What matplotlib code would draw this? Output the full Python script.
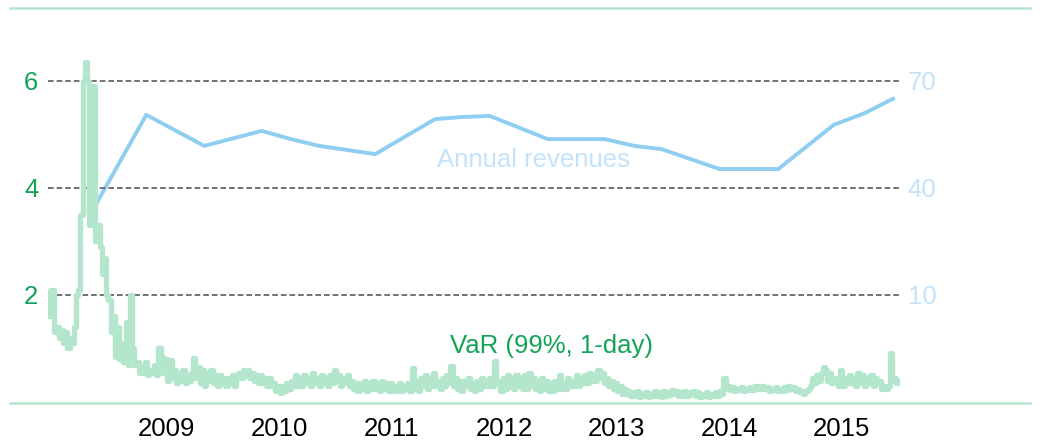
"""
VaR (99%, 1-day) vs annual revenues, 2008-2015.
Left axis: VaR, right axis: annual revenues.
"""

import pandas as pd
import matplotlib.pyplot as plt
from matplotlib.lines import Line2D

plt.rcParams["font.family"] = ["Liberation Sans", "DejaVu Sans"]

# weekly VaR readings, one list per calendar year
var_2008 = [1.6, 2.1, 2.1, 1.3, 1.4, 1.2, 1.35, 1.1, 1.3, 1.0, 1.2, 1.1, 1.4, 2.0,
            2.1, 3.5, 6.0, 6.35, 6.0, 3.3, 4.6, 5.9, 3.0, 3.3, 2.9, 2.4, 2.7, 2.0,
            1.9, 1.3, 1.6, 0.85, 1.4, 0.8, 1.1, 0.75, 1.5, 0.7, 2.0, 1.0, 0.7, 0.75,
            0.55, 0.65, 0.55, 0.75, 0.5, 0.6, 0.55, 0.7, 0.5, 1.0]
var_2009 = [0.85, 0.55, 0.8, 0.4, 0.78, 0.45, 0.6, 0.35, 0.55, 0.4, 0.6, 0.35, 0.5,
            0.4, 0.55, 0.82, 0.45, 0.65, 0.35, 0.6, 0.3, 0.55, 0.4, 0.6, 0.35, 0.5,
            0.3, 0.5, 0.35, 0.45, 0.3, 0.45, 0.35, 0.5, 0.3, 0.45, 0.55, 0.45, 0.6,
            0.5, 0.6, 0.45, 0.55, 0.4, 0.5, 0.35, 0.5, 0.35, 0.45, 0.3, 0.45, 0.3]
var_2010 = [0.35, 0.2, 0.3, 0.17, 0.3, 0.2, 0.35, 0.25, 0.4, 0.3, 0.5, 0.3, 0.45,
            0.3, 0.5, 0.35, 0.45, 0.3, 0.54, 0.35, 0.45, 0.3, 0.5, 0.35, 0.45, 0.3,
            0.5, 0.35, 0.6, 0.4, 0.5, 0.3, 0.45, 0.35, 0.5, 0.3, 0.4, 0.25, 0.35,
            0.2, 0.35, 0.25, 0.4, 0.2, 0.35, 0.25, 0.4, 0.25, 0.35, 0.2, 0.4, 0.25]
var_2011 = [0.35, 0.2, 0.35, 0.2, 0.3, 0.2, 0.35, 0.2, 0.3, 0.25, 0.35, 0.2, 0.64,
            0.25, 0.4, 0.2, 0.45, 0.3, 0.5, 0.25, 0.45, 0.3, 0.55, 0.3, 0.4, 0.25,
            0.45, 0.3, 0.5, 0.35, 0.68, 0.3, 0.45, 0.25, 0.4, 0.2, 0.4, 0.3, 0.45,
            0.25, 0.35, 0.2, 0.4, 0.25, 0.45, 0.3, 0.4, 0.3, 0.45, 0.3, 0.77, 0.35]
var_2012 = [0.4, 0.2, 0.45, 0.25, 0.5, 0.3, 0.45, 0.25, 0.5, 0.3, 0.45, 0.25, 0.5,
            0.25, 0.55, 0.3, 0.45, 0.25, 0.4, 0.2, 0.45, 0.25, 0.4, 0.2, 0.35, 0.2,
            0.4, 0.25, 0.5, 0.25, 0.35, 0.25, 0.45, 0.3, 0.4, 0.3, 0.5, 0.3, 0.45,
            0.35, 0.5, 0.35, 0.55, 0.4, 0.5, 0.4, 0.6, 0.45, 0.55, 0.35, 0.45, 0.3]
var_2013 = [0.4, 0.25, 0.35, 0.2, 0.3, 0.15, 0.25, 0.15, 0.2, 0.12, 0.18, 0.12, 0.2,
            0.1, 0.15, 0.12, 0.18, 0.1, 0.15, 0.12, 0.2, 0.12, 0.18, 0.1, 0.2, 0.12,
            0.18, 0.14, 0.22, 0.15, 0.2, 0.12, 0.18, 0.12, 0.2, 0.12, 0.18, 0.15, 0.2,
            0.12, 0.18, 0.1, 0.15, 0.12, 0.18, 0.1, 0.15, 0.12, 0.18, 0.12, 0.2, 0.15]
var_2014 = [0.45, 0.25, 0.3, 0.22, 0.28, 0.2, 0.25, 0.22, 0.28, 0.2, 0.25, 0.22, 0.28,
            0.22, 0.3, 0.25, 0.3, 0.25, 0.3, 0.25, 0.28, 0.2, 0.25, 0.22, 0.28, 0.2,
            0.25, 0.2, 0.28, 0.22, 0.3, 0.25, 0.28, 0.2, 0.25, 0.18, 0.2, 0.15, 0.2,
            0.25, 0.3, 0.45, 0.35, 0.5, 0.4, 0.55, 0.65, 0.6, 0.4, 0.55, 0.35, 0.4]
var_2015 = [0.45, 0.3, 0.6, 0.3, 0.45, 0.35, 0.5, 0.35, 0.45, 0.3, 0.55, 0.35, 0.5,
            0.3, 0.45, 0.35, 0.5, 0.3, 0.45, 0.35, 0.4, 0.25, 0.3, 0.25, 0.3, 0.92,
            0.4, 0.45, 0.35, 0.4]
var_by_year = {2008: var_2008, 2009: var_2009, 2010: var_2010, 2011: var_2011,
               2012: var_2012, 2013: var_2013, 2014: var_2014, 2015: var_2015}

# annual revenues (right axis)
rev_dates = ["2008-05-25", "2008-11-15", "2009-05-22", "2009-11-24", "2010-02-28",
             "2010-05-30", "2010-11-28", "2011-06-10", "2011-09-05", "2011-12-05",
             "2012-06-10", "2012-09-12", "2012-12-12", "2013-03-18", "2013-06-14",
             "2013-12-20", "2014-03-22", "2014-06-28", "2014-12-25", "2015-04-05",
             "2015-07-05"]
rev_values = [33.8, 60.5, 51.8, 56.0, 53.7, 51.8, 49.5, 59.3, 59.9, 60.2, 53.7,
              53.7, 53.7, 51.8, 50.9, 45.3, 45.3, 45.3, 57.7, 61.0, 65.0]

years = [2009, 2010, 2011, 2012, 2013, 2014, 2015]
left_ticks = [2, 4, 6]
right_ticks = [10, 40, 70]

GREEN = "#13a356"
MINT = "#b3e6cc"
BLUE = "#8fcdf1"
PALE_BLUE = "#c4e3fb"
FS = 18.5


def main():
    var_dates, var_values = [], []
    for yr, vals in var_by_year.items():
        var_dates += list(pd.date_range(f"{yr}-01-01", periods=len(vals), freq="7D"))
        var_values += vals

    fig = plt.figure(figsize=(10.39, 4.41), dpi=100)
    ax = fig.add_axes([48 / 1039, 39 / 441, 852 / 1039, 394 / 441])
    ax2 = ax.twinx()

    ymax = 7.364
    ax.set_ylim(0, ymax)
    ax2.set_ylim(15 * 0 - 20, 15 * ymax - 20)
    ax.set_xlim(pd.Timestamp("2008-01-01"), pd.Timestamp("2015-07-28"))

    ax2.plot(pd.to_datetime(rev_dates), rev_values, color=BLUE, lw=2.8,
             solid_joinstyle="round")
    ax.step(var_dates, var_values, where="post", color=MINT, lw=3.8)

    ax.set_zorder(ax2.get_zorder() + 1)
    ax.patch.set_visible(False)

    for a in (ax, ax2):
        for s in a.spines.values():
            s.set_visible(False)

    ax.set_yticks(left_ticks)
    ax.set_yticklabels([str(t) for t in left_ticks])
    ax.tick_params(axis="y", length=0, pad=7, labelsize=FS, labelcolor=GREEN)
    ax2.set_yticks(right_ticks)
    ax2.set_yticklabels([str(t) for t in right_ticks])
    ax2.tick_params(axis="y", length=0, pad=5.5, labelsize=FS, labelcolor=PALE_BLUE)

    # year labels sit a little after Jan 1 in the source chart
    ax.set_xticks([pd.Timestamp(f"{y}-01-20") for y in years])
    ax.set_xticklabels([str(y) for y in years])
    ax.tick_params(axis="x", length=0, pad=11, labelsize=FS, labelcolor="black")

    ax.grid(axis="y", color="#6c6c6c", linestyle=(0, (3, 1.6)), lw=1.35)
    ax.set_axisbelow(True)

    ax.text(0.5915, 0.142, "VaR (99%, 1-day)", transform=ax.transAxes, color=GREEN,
            fontsize=FS, ha="center", va="center")
    ax.text(0.570, 0.614, "Annual revenues", transform=ax.transAxes, color=PALE_BLUE,
            fontsize=FS, ha="center", va="center")

    # top and bottom frame rules across the whole figure
    for ypx in (8, 403):
        yf = 1 - ypx / 441
        fig.add_artist(Line2D([10 / 1039, 1030 / 1039], [yf, yf], color=MINT, lw=1.8,
                              transform=fig.transFigure))

    fig.savefig("out.png", dpi=100)


if __name__ == "__main__":
    main()
